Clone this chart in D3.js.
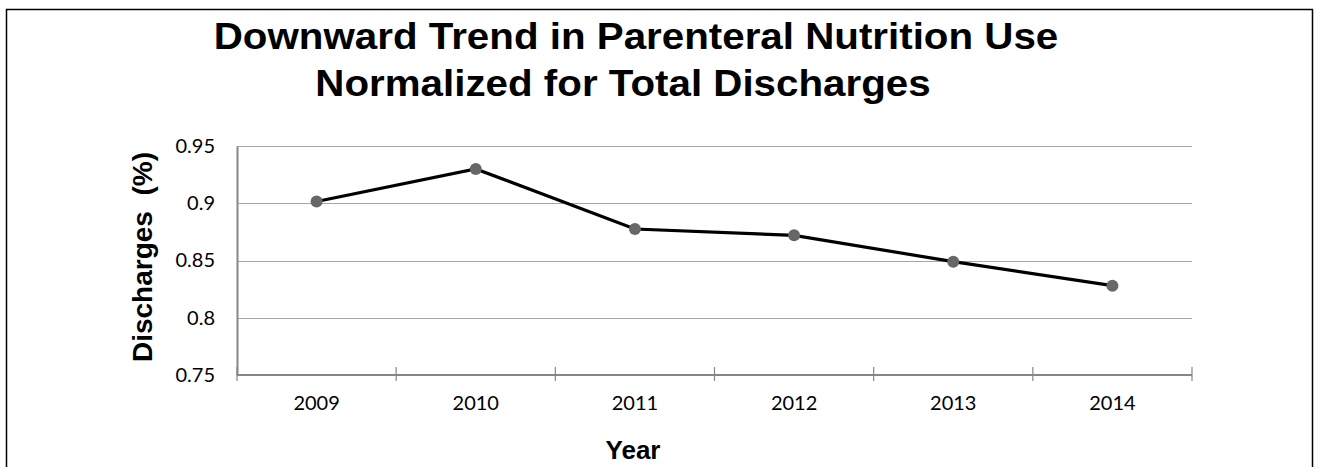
<!DOCTYPE html>
<html>
<head>
<meta charset="utf-8">
<script src="https://cdn.jsdelivr.net/npm/d3@7"></script>
<style>
  html, body { margin: 0; padding: 0; background: #fff; }
  svg { display: block; }
  .title { font-family: "Liberation Sans", Arial, sans-serif; font-weight: bold; font-size: 37px; fill: #000; }
  .axis-title { font-family: "Liberation Sans", Arial, sans-serif; font-weight: bold; fill: #000; }
  .tick-label { font-family: Lato, "Open Sans", sans-serif; font-size: 20px; fill: #000; }
</style>
</head>
<body>
<div id="app"></div>
<script>
const w = 1319;
const h = 467;

// data
const years = ['2009', '2010', '2011', '2012', '2013', '2014'];
const discharges = [0.9015, 0.930, 0.8775, 0.872, 0.849, 0.828];
const yTicks = [0.75, 0.8, 0.85, 0.9, 0.95];
const yTickLabels = ['0.75', '0.8', '0.85', '0.9', '0.95'];
const titleLines = ['Downward Trend in Parenteral Nutrition Use', 'Normalized for Total Discharges'];

const svg = d3.select('#app')
  .append('svg')
  .attr('width', w)
  .attr('height', h);

// outer frame
svg.append('rect')
  .attr('x', 6.5)
  .attr('y', 9.5)
  .attr('width', 1306)
  .attr('height', 480)
  .attr('fill', 'none')
  .attr('stroke', '#000')
  .attr('stroke-width', 1.5);

const x = d3.scaleBand().domain(years).range([237, 1192]);
const y = d3.scaleLinear().domain([0.75, 0.95]).range([375, 146]);

//////////TITLE//////////

// the original title is a bit wider than Arial, so stretch it horizontally
const titleX = [636, 623];
svg.selectAll('text.title')
  .data(titleLines)
  .join('text')
  .attr('class', 'title')
  .attr('text-anchor', 'middle')
  .attr('transform', (d, i) => `translate(${titleX[i]},${49 + i * 47}) scale(1.09,1)`)
  .text(d => d);

//////////GRID + Y AXIS//////////

svg.append('g')
  .selectAll('line')
  .data(yTicks.slice(1))
  .join('line')
  .attr('x1', x.range()[0])
  .attr('x2', x.range()[1])
  .attr('y1', d => Math.round(y(d)) + 0.5)
  .attr('y2', d => Math.round(y(d)) + 0.5)
  .attr('stroke', '#a6a6a6')
  .attr('stroke-width', 1);

const yAxis = svg.append('g')
  .attr('transform', `translate(${x.range()[0]},0)`)
  .call(d3.axisLeft(y)
    .tickValues(yTicks)
    .tickSize(0)
    .tickPadding(22)
    .tickFormat((d, i) => yTickLabels[i]));

yAxis.select('.domain').attr('stroke', '#868686').attr('stroke-width', 2);
yAxis.selectAll('text')
  .attr('class', 'tick-label')
  .attr('font-family', null)
  .attr('font-size', null);

//////////X AXIS//////////

const xAxisG = svg.append('g');

xAxisG.append('line')
  .attr('x1', x.range()[0])
  .attr('x2', x.range()[1])
  .attr('y1', y(0.75))
  .attr('y2', y(0.75))
  .attr('stroke', '#868686')
  .attr('stroke-width', 2);

const boundaries = years.map(d => x(d)).concat([x.range()[1]]);

xAxisG.selectAll('line.tk')
  .data(boundaries)
  .join('line')
  .attr('class', 'tk')
  .attr('x1', d => d)
  .attr('x2', d => d)
  .attr('y1', y(0.75) - 8)
  .attr('y2', y(0.75) + 6)
  .attr('stroke', '#868686')
  .attr('stroke-width', 1.2);

xAxisG.selectAll('text')
  .data(years)
  .join('text')
  .attr('class', 'tick-label')
  .attr('x', d => x(d) + x.bandwidth() / 2)
  .attr('y', 410)
  .attr('text-anchor', 'middle')
  .text(d => d);

//////////AXIS TITLES//////////

svg.append('text')
  .attr('class', 'axis-title')
  .attr('font-size', 28)
  .attr('transform', 'translate(152,257) rotate(-90)')
  .attr('text-anchor', 'middle')
  .attr('xml:space', 'preserve')
  .text('Discharges  (%)');

svg.append('text')
  .attr('class', 'axis-title')
  .attr('font-size', 26)
  .attr('x', 633)
  .attr('y', 459)
  .attr('text-anchor', 'middle')
  .text('Year');

//////////LINE + MARKERS//////////

const line = d3.line()
  .x((d, i) => x(years[i]) + x.bandwidth() / 2)
  .y(d => y(d));

svg.append('path')
  .datum(discharges)
  .attr('d', line)
  .attr('fill', 'none')
  .attr('stroke', '#000')
  .attr('stroke-width', 3.2);

svg.append('g')
  .selectAll('circle')
  .data(discharges)
  .join('circle')
  .attr('cx', (d, i) => x(years[i]) + x.bandwidth() / 2)
  .attr('cy', d => y(d))
  .attr('r', 6)
  .attr('fill', '#676767');
</script>
</body>
</html>
